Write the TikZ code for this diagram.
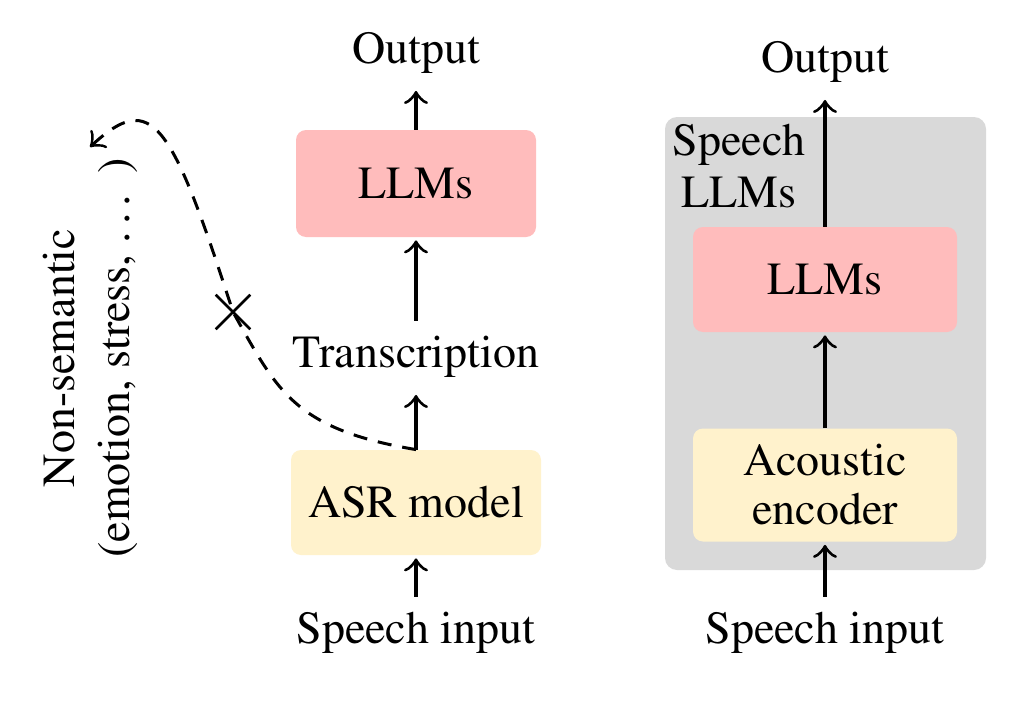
\documentclass[tikz,border=0pt]{standalone}
\usepackage[T1]{fontenc}
\renewcommand{\rmdefault}{ptm}
\usetikzlibrary{arrows.meta,shapes.misc}
\definecolor{llmpink}{RGB}{255,188,188}
\definecolor{encyellow}{RGB}{255,242,204}
\definecolor{boxgray}{RGB}{217,217,217}
\begin{document}
\begin{tikzpicture}[x=0.5pt,y=-0.5pt,
  every node/.style={font=\fontsize{23}{24.5}\selectfont},
  txt/.style={inner sep=0pt, outer ysep=7.5pt},
  blk/.style={rounded corners=5pt, inner sep=0pt, align=center},
  tiphead/.style={-{Classical TikZ Rightarrow[length=6.5pt,width=12pt]}},
  arr/.style={line width=1.6pt, tiphead, shorten >=1.5pt},
  dasharr/.style={line width=1.5pt, dash pattern=on 7pt off 5.5pt, tiphead},
]
\useasboundingbox (0,0) rectangle (1024,728);
\fill[white] (0,0) rectangle (1024,728);

% right container
\node[fill=boxgray, rounded corners=6pt, minimum width=160.5pt, minimum height=226.5pt, inner sep=0pt] (spllm) at (825.5,343.5) {};
\node[inner sep=0pt, align=center, anchor=north, font=\fontsize{23}{26}\selectfont] (spllmlbl) at (739,124) {Speech\\LLMs};

% boxes
\node[blk, fill=llmpink, minimum width=120pt, minimum height=53.5pt] (llmL) at (416,183.5) {LLMs};
\node[blk, fill=encyellow, minimum width=125pt, minimum height=52.5pt] (asr) at (416,502.5) {ASR model};
\node[blk, fill=llmpink, minimum width=132pt, minimum height=52.5pt] (llmR) at (825,279.5) {LLMs};
\node[blk, fill=encyellow, minimum width=132pt, minimum height=56.5pt] (ac) at (825,485) {Acoustic\\encoder};

% texts
\node[txt, anchor=base] (outL) at (416,63) {Output};
\node[txt, anchor=base] (trans) at (416,367) {Transcription};
\node[txt, anchor=base] (spL) at (416,643) {Speech input};
\node[txt, anchor=base] (outR) at (825,72) {Output};
\node[txt, anchor=base] (spR) at (825,643) {Speech input};

% arrows
\draw[arr] (spL) -- (asr);
\draw[arr] (asr) -- (trans);
\draw[arr] (trans) -- (llmL);
\draw[arr] (llmL) -- (outL);
\draw[arr] (spR) -- (ac);
\draw[arr] (ac) -- (llmR);
\draw[arr] (llmR) -- (outR);

% non-semantic path
\node[draw, cross out, line width=1.3pt, minimum size=16pt, inner sep=0pt] (xm) at (233,312) {};
\coordinate (tipc) at (90,147);
\draw[dasharr] (asr.north) .. controls (293,429) and (277,390) .. (xm.center)
  .. controls (171,120) and (152,90) .. (tipc);
\node[inner sep=0pt, align=center, rotate=90, font=\fontsize{23}{27.5}\selectfont] (nonsem) at (91,358) {Non-semantic\\(emotion, stress, \dots{} )};
\end{tikzpicture}
\end{document}
